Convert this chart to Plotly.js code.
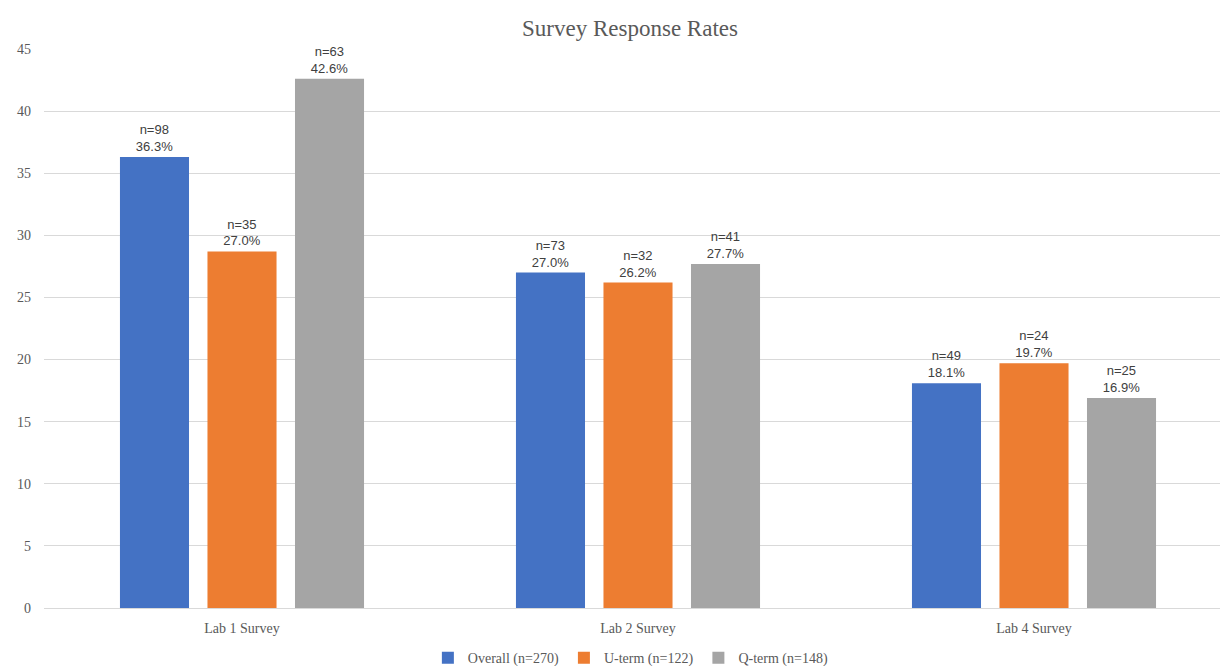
<!DOCTYPE html>
<html>
<head>
<meta charset="utf-8">
<script src="https://cdn.plot.ly/plotly-3.0.1.min.js"></script>
<style>html,body{margin:0;padding:0;overflow:hidden;background:#fff;}</style>
</head>
<body>
<div id="chart"></div>
<script>
const categories = ["Lab 1 Survey", "Lab 2 Survey", "Lab 4 Survey"];
const overallValues = [36.3, 27.0, 18.1];
const utermValues = [28.7, 26.2, 19.7];
const qtermValues = [42.6, 27.7, 16.9];
const overallLabels = ["n=98<br>36.3%", "n=73<br>27.0%", "n=49<br>18.1%"];
const utermLabels = ["n=35<br>27.0%", "n=32<br>26.2%", "n=24<br>19.7%"];
const qtermLabels = ["n=63<br>42.6%", "n=41<br>27.7%", "n=25<br>16.9%"];
const seriesNames = ["Overall (n=270)", "U-term (n=122)", "Q-term (n=148)"];
const colors = ["#4472C4", "#ED7D31", "#A5A5A5"];

const labelFont = {family: "Liberation Sans, Arial, sans-serif", size: 13, color: "#404040"};
function mk(name, y, text, color) {
  return {
    type: "bar", name: name, x: categories, y: y, text: text,
    textposition: "outside", textfont: labelFont, cliponaxis: false,
    marker: {color: color}, hoverinfo: "skip"
  };
}
const data = [
  mk(seriesNames[0], overallValues, overallLabels, colors[0]),
  mk(seriesNames[1], utermValues, utermLabels, colors[1]),
  mk(seriesNames[2], qtermValues, qtermLabels, colors[2])
];
const serif = "Liberation Serif, Times New Roman, serif";
const layout = {
  width: 1232, height: 666,
  margin: {l: 44, r: 0, t: 49, b: 58, autoexpand: false},
  paper_bgcolor: "#fff", plot_bgcolor: "#fff",
  barmode: "group", bargap: 0.337, bargroupgap: 0.211,
  title: {text: "Survey Response Rates", font: {family: serif, size: 23, color: "#595959"},
          xref: "container", x: 630/1232, xanchor: "center", yref: "container", y: 1 - 28/666, yanchor: "middle"},
  xaxis: {showgrid: false, showline: false, zeroline: false, ticks: "", automargin: false,
          ticklabelstandoff: 10,
          tickfont: {family: serif, size: 14, color: "#595959"}},
  yaxis: {range: [0, 45], dtick: 5, showgrid: true, gridcolor: "#d9d9d9", gridwidth: 1, automargin: false,
          zeroline: true, zerolinecolor: "#d9d9d9", zerolinewidth: 1, showline: false, ticks: "",
          ticklabelstandoff: 12,
          tickfont: {family: serif, size: 14, color: "#595959"}},
  showlegend: true,
  legend: {orientation: "h", x: 0.494, xanchor: "center", y: -0.061, yanchor: "top",
           font: {family: serif, size: 14, color: "#595959"}, itemwidth: 30, traceorder: "normal"}
};
Plotly.newPlot("chart", data, layout, {displayModeBar: false, staticPlot: true});
</script>
</body>
</html>
